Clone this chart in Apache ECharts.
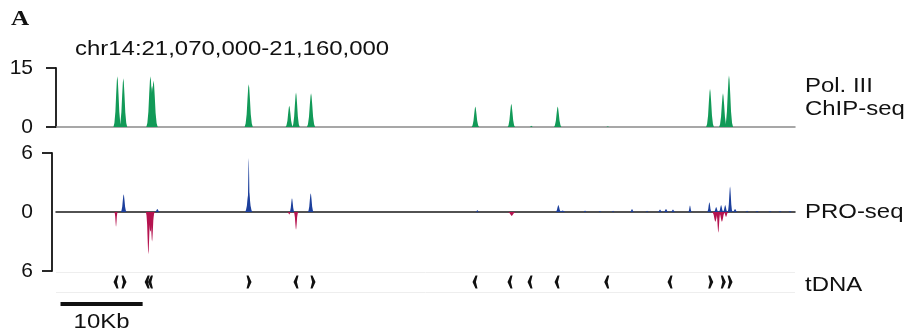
<!DOCTYPE html>
<html>
<head>
<meta charset="utf-8">
<script src="https://cdn.jsdelivr.net/npm/echarts@6/dist/echarts.min.js"></script>
<style>
  html, body { margin: 0; padding: 0; background: #fff; }
  #chart { width: 912px; height: 336px; }
</style>
</head>
<body>
<div id="chart"></div>
<script>
// Genomic window: chr14 21,070,000-21,160,000, positions below in kb from window start
const regionLabel = 'chr14:21,070,000-21,160,000';
const regionSpanKb = 90;

// Pol. III ChIP-seq peaks: centre (kb), height, base width (kb)
const chipPos   = [7.47, 8.20, 11.50, 11.70, 11.88, 23.47, 28.41, 29.23, 31.06, 51.07, 55.45, 57.89, 61.10, 67.19, 79.65, 81.23, 81.96];
const chipVal   = [12.9, 12.4, 12.9, 10.5, 11.8, 10.9, 5.4, 8.8, 8.6, 5.2, 5.9, 0.3, 5.2, 0.15, 9.7, 8.6, 13.1];
const chipWidth = [0.95, 0.95, 1.0, 1.3, 1.0, 1.0, 0.9, 0.9, 1.0, 0.9, 0.9, 0.5, 0.9, 0.4, 0.95, 0.95, 1.0];

// PRO-seq plus strand signal
const proPlusPos   = [8.24, 12.34, 23.47, 23.47, 28.74, 31.02, 51.31, 61.18, 61.7, 64.43, 66.25, 67.84, 70.15, 71.98, 73.56, 74.29, 75.14, 77.21, 79.57, 80.4, 81.0, 81.5, 82.09, 82.70, 84.16, 85.38, 86.96, 88.18, 89.4];
const proPlusVal   = [1.8, 0.3, 5.5, 2.1, 1.4, 1.9, 0.2, 0.7, 0.15, 0.15, 0.1, 0.12, 0.3, 0.12, 0.25, 0.3, 0.25, 0.65, 1.0, 0.5, 0.7, 0.7, 2.6, 0.3, 0.12, 0.1, 0.1, 0.1, 0.1];
const proPlusWidth = [0.7, 0.6, 0.35, 0.9, 0.6, 0.7, 0.4, 0.7, 0.9, 0.4, 0.4, 0.4, 0.5, 0.4, 0.6, 0.6, 0.6, 0.45, 0.55, 0.6, 0.6, 0.6, 0.6, 0.6, 0.5, 0.5, 0.5, 0.5, 0.5];

// PRO-seq minus strand signal (drawn below zero)
const proMinusPos   = [7.31, 11.25, 11.5, 11.7, 28.41, 29.23, 55.5, 80.3, 80.66, 81.1, 81.6];
const proMinusVal   = [-1.5, -4.3, -2.0, -3.0, -0.25, -1.8, -0.4, -1.0, -2.1, -1.0, -0.5];
const proMinusWidth = [0.4, 0.6, 1.1, 0.6, 0.5, 0.55, 1.0, 0.8, 0.55, 0.8, 0.6];

// tRNA genes: position (kb) and strand
const tdnaPos    = [7.31, 8.28, 11.1, 11.5, 23.51, 29.23, 31.30, 51.03, 55.29, 57.73, 61.02, 67.07, 74.78, 79.74, 81.27, 82.09];
const tdnaStrand = ['-', '+', '-', '-', '+', '-', '+', '-', '-', '-', '-', '-', '-', '+', '+', '+'];

// Axis ticks
const chipTicks = [0, 15];
const proTicks = [-6, 6];
const proTickLabels = [-6, 0, 6];

// Scale bar
const scaleBarStartKb = 0.55;
const scaleBarLenKb = 10;
const scaleBarLabel = '10Kb';

const trackLabels = [
  { text: 'Pol. III', y: 86 },
  { text: 'ChIP-seq', y: 109.5 },
  { text: 'PRO-seq', y: 212.5 },
  { text: 'tDNA', y: 285 }
];

const FONT = '"Liberation Sans", Arial, Helvetica, sans-serif';
const STRETCH = 1.14;
const INK = '#111111';

// peak outline as fractions of half base width / height
const bell = [[-1, 0], [-0.75, 0.08], [-0.5, 0.3], [-0.3, 0.65], [-0.12, 0.92], [0, 1],
              [0.12, 0.92], [0.3, 0.65], [0.5, 0.3], [0.75, 0.08], [1, 0]];

function peakItem(params, api) {
  const c = api.value(0), h = api.value(1), w = api.value(2);
  const pts = bell.map(function (p) { return api.coord([c + p[0] * w / 2, h * p[1]]); });
  return { type: 'polygon', shape: { points: pts }, style: { fill: api.visual('color') } };
}

function zipPeaks(pos, val, wid) {
  return pos.map(function (p, i) { return [p, val[i], wid[i]]; });
}

// tDNA strand glyphs: bold narrow chevrons
const leftArrow = 'path://M0,6 L3,0 L5,0 L3.4,6 L5,12 L3,12 Z';
const rightArrow = 'path://M5,6 L2,0 L0,0 L1.6,6 L0,12 L2,12 Z';

const grids = [
  { left: 56, right: 117, top: 68, height: 59 },
  { left: 56, right: 117, top: 153, height: 118 },
  { left: 56, right: 117, top: 272, height: 20 },
  { left: 56, right: 117, top: 298, height: 12 }
];

function xAxisFor(i, line) {
  return {
    type: 'value', gridIndex: i, min: 0, max: regionSpanKb,
    axisLabel: { show: false }, axisTick: { show: false }, splitLine: { show: false },
    axisLine: line ? { show: true, onZero: true, lineStyle: line } : { show: false }
  };
}

const bracketStyle = { color: INK, width: 1.8 };

const option = {
  backgroundColor: '#ffffff',
  animation: false,
  grid: grids,
  xAxis: [
    xAxisFor(0, { color: '#8a8a8a', width: 1.5 }),
    xAxisFor(1, { color: '#1a1a1a', width: 1.5 }),
    xAxisFor(2, null),
    xAxisFor(3, null)
  ],
  yAxis: [
    {
      type: 'value', gridIndex: 0, min: chipTicks[0], max: chipTicks[1], interval: 15, offset: 4,
      axisLine: { show: true, lineStyle: bracketStyle },
      axisTick: { show: true, length: 10, lineStyle: bracketStyle },
      axisLabel: { fontSize: 21, fontFamily: FONT, color: INK, margin: 19 },
      splitLine: { show: false }
    },
    {
      type: 'value', gridIndex: 1, min: -6, max: 6, interval: 6, offset: 4,
      axisLine: { show: true, onZero: false, lineStyle: bracketStyle },
      axisTick: { show: true, length: 10, lineStyle: bracketStyle, customValues: proTicks },
      axisLabel: {
        fontSize: 21, fontFamily: FONT, color: INK, margin: 19,
        customValues: proTickLabels,
        formatter: function (v) { return String(Math.abs(v)); }
      },
      splitLine: { show: false }
    },
    {
      type: 'value', gridIndex: 2, min: 0, max: 1, interval: 1,
      axisLine: { show: false }, axisTick: { show: false }, axisLabel: { show: false },
      splitLine: { show: true, lineStyle: { color: '#eeeeee', width: 1 } }
    },
    { type: 'value', gridIndex: 3, min: 0, max: 1, show: false }
  ],
  series: [
    {
      name: 'Pol. III ChIP-seq', type: 'custom', xAxisIndex: 0, yAxisIndex: 0,
      renderItem: peakItem, itemStyle: { color: '#129a58' },
      encode: { x: 0, y: 1 }, data: zipPeaks(chipPos, chipVal, chipWidth)
    },
    {
      name: 'PRO-seq plus', type: 'custom', xAxisIndex: 1, yAxisIndex: 1,
      renderItem: peakItem, itemStyle: { color: '#1c3f9c' },
      encode: { x: 0, y: 1 }, data: zipPeaks(proPlusPos, proPlusVal, proPlusWidth)
    },
    {
      name: 'PRO-seq minus', type: 'custom', xAxisIndex: 1, yAxisIndex: 1,
      renderItem: peakItem, itemStyle: { color: '#b5134f' },
      encode: { x: 0, y: 1 }, data: zipPeaks(proMinusPos, proMinusVal, proMinusWidth)
    },
    {
      name: 'tDNA', type: 'scatter', xAxisIndex: 2, yAxisIndex: 2,
      symbolSize: [5, 13], itemStyle: { color: '#111111', opacity: 1 },
      data: tdnaPos.map(function (p, i) {
        return { value: [p, 0.5], symbol: tdnaStrand[i] === '+' ? rightArrow : leftArrow };
      })
    },
    {
      name: 'scale', type: 'line', xAxisIndex: 3, yAxisIndex: 3,
      symbol: 'none', lineStyle: { color: '#111', width: 4 },
      data: [[scaleBarStartKb, 0.5], [scaleBarStartKb + scaleBarLenKb, 0.5]]
    }
  ]
};

const chart = echarts.init(document.getElementById('chart'), null, { renderer: 'canvas' });
chart.setOption(option);

function label(text, x, y, opts) {
  opts = opts || {};
  return {
    type: 'text', x: x, y: y, scaleX: opts.scaleX || STRETCH, silent: true,
    style: {
      text: text, fill: INK,
      fontSize: opts.fontSize || 21, fontFamily: opts.fontFamily || FONT,
      fontWeight: opts.fontWeight || 'normal',
      align: opts.align || 'left', verticalAlign: 'middle'
    }
  };
}

const barMid = chart.convertToPixel({ gridIndex: 3 }, [scaleBarStartKb + scaleBarLenKb / 2, 0.5]);

const graphics = [
  label('A', 11, 20, { fontFamily: '"Liberation Serif", "Times New Roman", serif', fontWeight: 'bold', fontSize: 21, scaleX: 1.2 }),
  label(regionLabel, 75, 49),
  label(scaleBarLabel, barMid[0], 322, { align: 'center' })
].concat(trackLabels.map(function (t) { return label(t.text, 805, t.y); }));

chart.setOption({ graphic: graphics });
</script>
</body>
</html>
